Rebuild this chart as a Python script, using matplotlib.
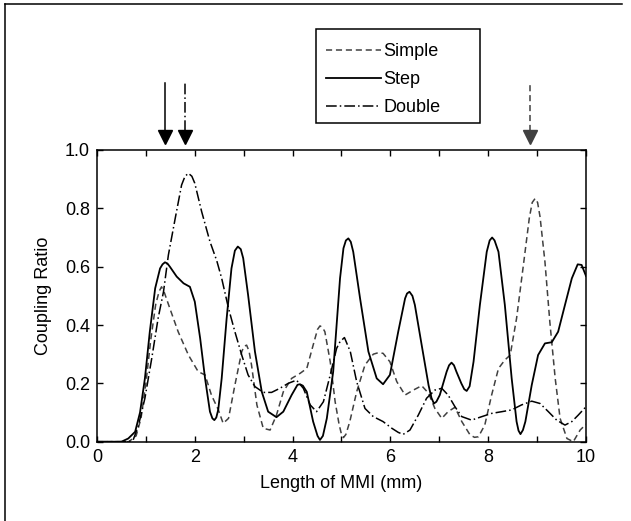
"""
coupling ratio vs MMI length : simple, step, double
"""
import matplotlib
matplotlib.use("Agg")
import matplotlib.pyplot as plt
from matplotlib.lines import Line2D
from matplotlib.patches import Rectangle

plt.rcParams["font.family"] = ["Liberation Sans", "DejaVu Sans"]

# Step (solid)
step_x = [0.0, 0.5, 0.64, 0.78, 0.88, 0.98, 1.08, 1.19, 1.29, 1.34, 1.39, 1.44, 1.49, 1.63,
          1.77, 1.90, 2.0, 2.11, 2.21, 2.31, 2.36, 2.40, 2.44, 2.48, 2.55, 2.65, 2.75, 2.82,
          2.88, 2.94, 2.99, 3.09, 3.23, 3.37, 3.50, 3.67, 3.81, 3.98, 4.10, 4.15, 4.21,
          4.29, 4.42, 4.51, 4.56, 4.62, 4.70, 4.83, 4.90, 4.97, 5.04, 5.09, 5.14, 5.19,
          5.24, 5.38, 5.55, 5.72, 5.85, 5.99, 6.16, 6.30, 6.34, 6.39, 6.45, 6.50, 6.64,
          6.78, 6.84, 6.89, 6.94, 7.01, 7.15, 7.20, 7.25, 7.30, 7.35, 7.45, 7.51, 7.56,
          7.62, 7.70, 7.83, 7.97, 8.03, 8.08, 8.13, 8.21, 8.34, 8.48, 8.58, 8.62, 8.66,
          8.71, 8.76, 8.89, 9.02, 9.16, 9.30, 9.43, 9.57, 9.71, 9.83, 9.91, 10.0]
step_y = [0.0, 0.0, 0.011, 0.034, 0.10, 0.217, 0.377, 0.526, 0.594, 0.608, 0.615, 0.611,
          0.60, 0.566, 0.543, 0.531, 0.48, 0.354, 0.217, 0.103, 0.08, 0.074, 0.083, 0.11,
          0.217, 0.42, 0.594, 0.655, 0.669, 0.66, 0.629, 0.503, 0.309, 0.171, 0.103,
          0.084, 0.103, 0.16, 0.195, 0.197, 0.192, 0.171, 0.069, 0.02, 0.006, 0.02, 0.08,
          0.24, 0.40, 0.56, 0.663, 0.69, 0.697, 0.685, 0.651, 0.491, 0.309, 0.217, 0.197,
          0.229, 0.377, 0.491, 0.508, 0.514, 0.50, 0.469, 0.331, 0.194, 0.15, 0.131,
          0.137, 0.16, 0.24, 0.262, 0.271, 0.262, 0.24, 0.20, 0.18, 0.174, 0.19, 0.274,
          0.469, 0.651, 0.69, 0.70, 0.69, 0.651, 0.469, 0.217, 0.069, 0.038, 0.026, 0.04,
          0.069, 0.194, 0.297, 0.337, 0.341, 0.377, 0.469, 0.56, 0.608, 0.606, 0.568]

# Simple (dashed)
simple_x = [0.0, 0.65, 0.80, 0.90, 1.0, 1.1, 1.2, 1.27, 1.32, 1.38, 1.49, 1.66, 1.87,
            2.07, 2.21, 2.34, 2.48, 2.58, 2.69, 2.82, 2.96, 3.01, 3.06, 3.11, 3.16, 3.27,
            3.40, 3.54, 3.67, 3.81, 3.98, 4.15, 4.29, 4.42, 4.51, 4.56, 4.61, 4.66, 4.77,
            4.87, 4.95, 5.00, 5.04, 5.09, 5.17, 5.31, 5.48, 5.65, 5.75, 5.85, 5.99, 6.13,
            6.30, 6.47, 6.64, 6.78, 6.91, 7.05, 7.18, 7.32, 7.46, 7.63, 7.72, 7.80, 7.93,
            8.07, 8.21, 8.34, 8.45, 8.58, 8.72, 8.84, 8.90, 8.96, 9.01, 9.06, 9.16, 9.26,
            9.37, 9.47, 9.61, 9.74, 9.88, 10.0]
simple_y = [0.0, 0.0, 0.02, 0.08, 0.20, 0.35, 0.47, 0.515, 0.531, 0.51, 0.457, 0.377,
            0.297, 0.24, 0.229, 0.16, 0.11, 0.063, 0.08, 0.194, 0.309, 0.327, 0.331, 0.31,
            0.263, 0.126, 0.046, 0.04, 0.091, 0.171, 0.217, 0.234, 0.251, 0.331, 0.385,
            0.397, 0.392, 0.377, 0.274, 0.137, 0.06, 0.025, 0.014, 0.025, 0.069, 0.171,
            0.263, 0.30, 0.305, 0.303, 0.274, 0.206, 0.16, 0.177, 0.192, 0.166, 0.114,
            0.08, 0.103, 0.118, 0.069, 0.023, 0.015, 0.017, 0.057, 0.16, 0.251, 0.28,
            0.297, 0.423, 0.606, 0.766, 0.82, 0.834, 0.82, 0.771, 0.617, 0.411, 0.217,
            0.08, 0.011, 0.0, 0.04, 0.06]

# Double (dash-dot)
double_x = [0.0, 0.65, 0.74, 0.85, 0.98, 1.12, 1.25, 1.36, 1.46, 1.60, 1.73, 1.80, 1.87,
            1.94, 2.0, 2.14, 2.31, 2.45, 2.55, 2.69, 2.82, 2.96, 3.09, 3.23, 3.40, 3.57,
            3.74, 3.91, 4.08, 4.22, 4.36, 4.49, 4.63, 4.77, 4.90, 4.97, 5.06, 5.18, 5.31,
            5.48, 5.65, 5.85, 6.03, 6.16, 6.26, 6.40, 6.57, 6.74, 6.91, 7.05, 7.18, 7.32,
            7.46, 7.66, 7.87, 8.07, 8.28, 8.48, 8.68, 8.89, 9.06, 9.23, 9.40, 9.57, 9.71,
            9.84, 10.0]
double_y = [0.0, 0.0, 0.006, 0.057, 0.149, 0.286, 0.423, 0.514, 0.64, 0.766, 0.88, 0.91,
            0.92, 0.91, 0.886, 0.789, 0.686, 0.62, 0.56, 0.457, 0.377, 0.297, 0.229, 0.189,
            0.169, 0.169, 0.183, 0.20, 0.211, 0.183, 0.126, 0.103, 0.137, 0.229, 0.32,
            0.343, 0.357, 0.309, 0.206, 0.114, 0.086, 0.069, 0.046, 0.032, 0.025, 0.04,
            0.091, 0.149, 0.177, 0.183, 0.16, 0.12, 0.086, 0.074, 0.086, 0.097, 0.103,
            0.109, 0.126, 0.139, 0.131, 0.103, 0.074, 0.057, 0.069, 0.091, 0.12]

labels = ["Simple", "Step", "Double"]
# marker arrows above the frame: x position, style, colour
arrow_x = [1.39, 1.80, 8.85]
arrow_ls = ["-", (0, (7, 2, 1, 2)), (0, (4, 2.5))]
arrow_col = ["black", "black", "#404040"]

GRAY = "#404040"
FS = 13

fig = plt.figure(figsize=(6.31, 5.21), dpi=100)
ax = fig.add_axes([0.1537, 0.1522, 0.775, 0.5599])

kw = dict(solid_joinstyle="round", dash_joinstyle="round")
l_simple, = ax.plot(simple_x, simple_y, color=GRAY, lw=1.1, ls=(0, (4, 2.5)), **kw)
l_step, = ax.plot(step_x, step_y, color="black", lw=1.3, ls="-", **kw)
l_double, = ax.plot(double_x, double_y, color="black", lw=1.1, ls=(0, (7, 2, 1, 2)), **kw)

ax.set_xlim(0, 10)
ax.set_ylim(0, 1.0)
ax.set_xticks([0, 2, 4, 6, 8, 10])
ax.set_xticks(range(1, 10, 2), minor=True)
ax.set_yticks([0.0, 0.2, 0.4, 0.6, 0.8, 1.0])
ax.set_yticklabels(["0.0", "0.2", "0.4", "0.6", "0.8", "1.0"])
ax.tick_params(which="both", direction="in", top=True, right=True,
               length=4, width=1, labelsize=FS, pad=5)
for s in ax.spines.values():
    s.set_linewidth(1.1)
ax.set_xlabel("Length of MMI (mm)", fontsize=FS, labelpad=7)
ax.set_ylabel("Coupling Ratio", fontsize=FS, labelpad=9)

# arrows
for x, ls, c in zip(arrow_x, arrow_ls, arrow_col):
    ax.plot([x, x], [1.065, 1.23], color=c, lw=1.1, ls=ls, clip_on=False)
    ax.plot(x, 1.043, marker="v", ms=9.5, color=c, clip_on=False)

# legend
fig.legend([l_simple, l_step, l_double], labels, loc="upper left",
           bbox_to_anchor=(0.517, 0.917), frameon=False, fontsize=FS,
           handlelength=3.05, handletextpad=0.1, labelspacing=0.6,
           borderpad=0, borderaxespad=0)
fig.add_artist(Rectangle((0.5008, 0.764), 0.2599, 0.180, transform=fig.transFigure,
                         fill=False, edgecolor="black", lw=1.1))

# page frame (left and top only)
fig.add_artist(Line2D([5 / 631, 5 / 631], [0, 1 - 4 / 521], transform=fig.transFigure,
                      color="black", lw=1.1))
fig.add_artist(Line2D([5 / 631, 622 / 631], [1 - 4 / 521, 1 - 4 / 521],
                      transform=fig.transFigure, color="black", lw=1.1))

plt.savefig("out.png", dpi=100)
